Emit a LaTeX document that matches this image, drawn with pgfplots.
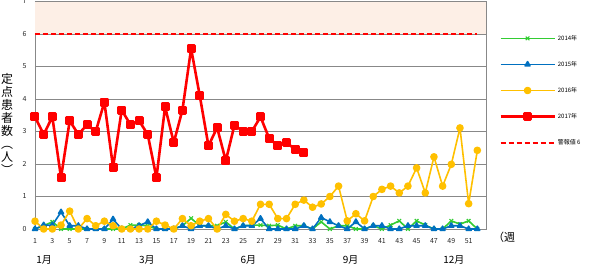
\documentclass[border=0pt]{standalone}
\usepackage{pgfplots}
\pgfplotsset{compat=1.18}
\usepackage{fontspec}
\setmainfont{Noto Sans CJK JP}
\definecolor{g14}{HTML}{33CC33}
\definecolor{b15}{HTML}{0070C0}
\definecolor{y16}{HTML}{FFC000}
\definecolor{r17}{HTML}{FF0000}
\definecolor{band}{HTML}{FDEFE6}
\definecolor{gridc}{HTML}{888888}
\begin{document}
\begin{tikzpicture}
\path[use as bounding box] (-35pt,-39pt) rectangle (554pt,229pt);
\begin{axis}[
  at={(0pt,0pt)}, anchor=south west,
  width=451pt, height=227.5pt, scale only axis,
  xmin=1, xmax=53, ymin=0, ymax=7,
  xtick={1,3,...,51}, ytick={0,1,...,7},
  ymajorgrids, grid style={gridc, line width=0.8pt},
  axis line style={gridc, line width=0.8pt},
  major tick length=0pt,
  tick label style={font=\fontsize{7}{8}\selectfont, color=black!85},
  xticklabel style={yshift=-6pt},
  yticklabel style={xshift=-5pt},
  /pgf/number format/assume math mode=true,
  clip=false,
  every axis plot/.append style={line join=round},
  legend cell align=left,
  legend style={draw=none, fill=none, font=\fontsize{6}{7}\selectfont,
    at={(1.029,0.862)}, anchor=north west, row sep=15.5pt, inner sep=0pt},
  legend image code/.code={\draw[mark repeat=2,mark phase=2] plot coordinates {(0pt,0pt) (27pt,0pt) (54pt,0pt)};},
]
\addplot[draw=none, fill=band, forget plot] coordinates {(1,6) (53,6) (53,7) (1,7)} -- cycle;
\addplot[g14, line width=1.6pt, mark=x, mark size=2.6pt, mark options={solid, line width=1.1pt}] coordinates {
(1,0) (2,0.1) (3,0.22) (4,0) (5,0) (6,0) (7,0) (8,0) (9,0) (10,0)
(11,0) (12,0.12) (13,0.12) (14,0.1) (15,0) (16,0) (17,0) (18,0.1) (19,0.33) (20,0.1)
(21,0.1) (22,0.1) (23,0.22) (24,0) (25,0.1) (26,0.12) (27,0.12) (28,0.1) (29,0.12) (30,0)
(31,0.1) (32,0.1) (33,0) (34,0.22) (35,0) (36,0.1) (37,0.1) (38,0) (39,0) (40,0.1)
(41,0) (42,0.12) (43,0.25) (44,0) (45,0.25) (46,0.12) (47,0) (48,0) (49,0.25) (50,0.15)
(51,0.25) (52,0)};
\addlegendentry{2014年}
\addplot[b15, line width=1.6pt, mark=triangle*, mark size=2.8pt] coordinates {
(1,0) (2,0.12) (3,0.12) (4,0.52) (5,0.1) (6,0.1) (7,0) (8,0) (9,0) (10,0.3)
(11,0) (12,0) (13,0.1) (14,0.22) (15,0) (16,0) (17,0) (18,0.1) (19,0) (20,0.1)
(21,0.1) (22,0) (23,0.1) (24,0) (25,0.1) (26,0.1) (27,0.32) (28,0) (29,0) (30,0)
(31,0) (32,0.1) (33,0) (34,0.35) (35,0.22) (36,0.1) (37,0) (38,0.22) (39,0) (40,0.1)
(41,0.1) (42,0) (43,0) (44,0.1) (45,0.1) (46,0.1) (47,0) (48,0) (49,0.1) (50,0.1)
(51,0) (52,0)};
\addlegendentry{2015年}
\addplot[y16, line width=1.6pt, mark=*, mark size=3pt] coordinates {
(1,0.24) (2,0) (3,0) (4,0.12) (5,0.55) (6,0) (7,0.32) (8,0.1) (9,0.24) (10,0.1)
(11,0) (12,0) (13,0) (14,0) (15,0.24) (16,0.12) (17,0) (18,0.32) (19,0.1) (20,0.24)
(21,0.32) (22,0) (23,0.45) (24,0.24) (25,0.32) (26,0.24) (27,0.76) (28,0.76) (29,0.32) (30,0.32)
(31,0.76) (32,0.89) (33,0.67) (34,0.77) (35,1.0) (36,1.32) (37,0.25) (38,0.47) (39,0.25) (40,1.0)
(41,1.22) (42,1.32) (43,1.11) (44,1.32) (45,1.88) (46,1.11) (47,2.22) (48,1.32) (49,1.99) (50,3.11)
(51,0.78) (52,2.42)};
\addlegendentry{2016年}
\addplot[r17, line width=2.6pt, mark=square*, mark size=3.2pt] coordinates {
(1,3.45) (2,2.91) (3,3.45) (4,1.58) (5,3.33) (6,2.91) (7,3.21) (8,3.0) (9,3.9) (10,1.9)
(11,3.66) (12,3.21) (13,3.33) (14,2.91) (15,1.58) (16,3.76) (17,2.66) (18,3.66) (19,5.55) (20,4.1)
(21,2.56) (22,3.12) (23,2.1) (24,3.2) (25,3.0) (26,3.0) (27,3.45) (28,2.79) (29,2.56) (30,2.66)
(31,2.45) (32,2.35)};
\addlegendentry{2017年}
\addplot[r17, line width=1.8pt, dash pattern=on 5pt off 3pt] coordinates {(1,6) (52,6)};
\addlegendentry{警報値 6}
\node[font=\fontsize{10}{11}\selectfont] at (axis cs:2.05,-0.95) {1月};
\node[font=\fontsize{10}{11}\selectfont] at (axis cs:13.9,-0.95) {3月};
\node[font=\fontsize{10}{11}\selectfont] at (axis cs:25.6,-0.95) {6月};
\node[font=\fontsize{10}{11}\selectfont] at (axis cs:37.4,-0.95) {9月};
\node[font=\fontsize{10}{11}\selectfont] at (axis cs:49.3,-0.95) {12月};
\node[font=\fontsize{11}{12}\selectfont] at (axis cs:55.1,-0.25) {（週};
\node[font=\fontsize{12}{13}\selectfont, align=center, inner sep=0pt] at (axis cs:-2.22,3.23) {定\\点\\患\\者\\数\\︵\\人\\︶};
\end{axis}
\end{tikzpicture}
\end{document}
